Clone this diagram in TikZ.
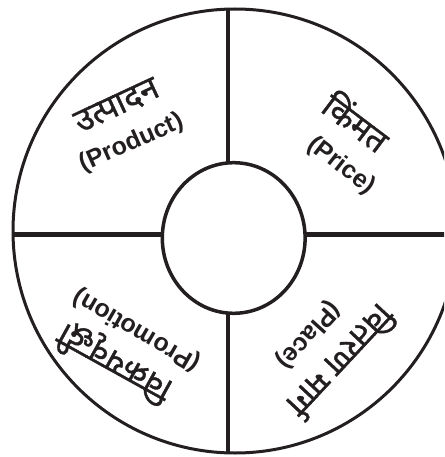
\documentclass[tikz,border=0pt]{standalone}
\usepackage{fontspec}
\setmainfont{Liberation Sans}
\newfontfamily\enfont{Liberation Sans}
\newfontfamily\deva[Script=Devanagari, FakeBold=1.2]{Noto Sans}
\definecolor{ink}{HTML}{231F20}
\begin{document}
\begin{tikzpicture}[x=1pt,y=-1pt,
  rim/.style={draw=ink, line width=3pt},
  divider/.style={draw=ink, line width=4.5pt},
  hub/.style={draw=ink, fill=white, line width=3.5pt},
  en/.style={font=\enfont\bfseries\fontsize{25}{30}\selectfont, text=ink, inner sep=0pt},
  dv/.style={font=\deva\fontsize{33}{40}\selectfont, text=ink, inner sep=0pt}]
\useasboundingbox (0,0) rectangle (444,457);
\clip (0,0) rectangle (444,457);
\fill[white] (0,0) rectangle (444,457);
\path[rim] (235,231) circle[radius=222];
\coordinate (vtop) at (228,9);
\coordinate (vbot) at (228,453);
\coordinate (hleft) at (13,234.3);
\coordinate (hright) at (446,234.3);
\path[divider] (vtop) -- (vbot);
\path[divider] (hleft) -- (hright);
\path[hub] (233.7,238) ellipse [x radius=71.4, y radius=75.3];
% English labels first
\node[en, rotate=24] (product) at (131.7,143.3) {(Product)};
\node[en, rotate=-38] (price) at (341,166) {(Price)};
\node[en, rotate=150] (promotion) at (136.7,330) {(Promotion)};
\node[en, rotate=228] (place) at (308.3,335) {(Place)};
% Devanagari labels last
\node[dv, rotate=25] (utpadan) at (117,106) {उत्पादन};
\node[dv, rotate=-37] (kimmat) at (357,121) {किंमत};
\node[dv, rotate=151] (vikray) at (115,362) {विक्रयवृद्धी};
\node[dv, rotate=227] (vitaran) at (342,362) {वितरण मार्ग};
\end{tikzpicture}
\end{document}
